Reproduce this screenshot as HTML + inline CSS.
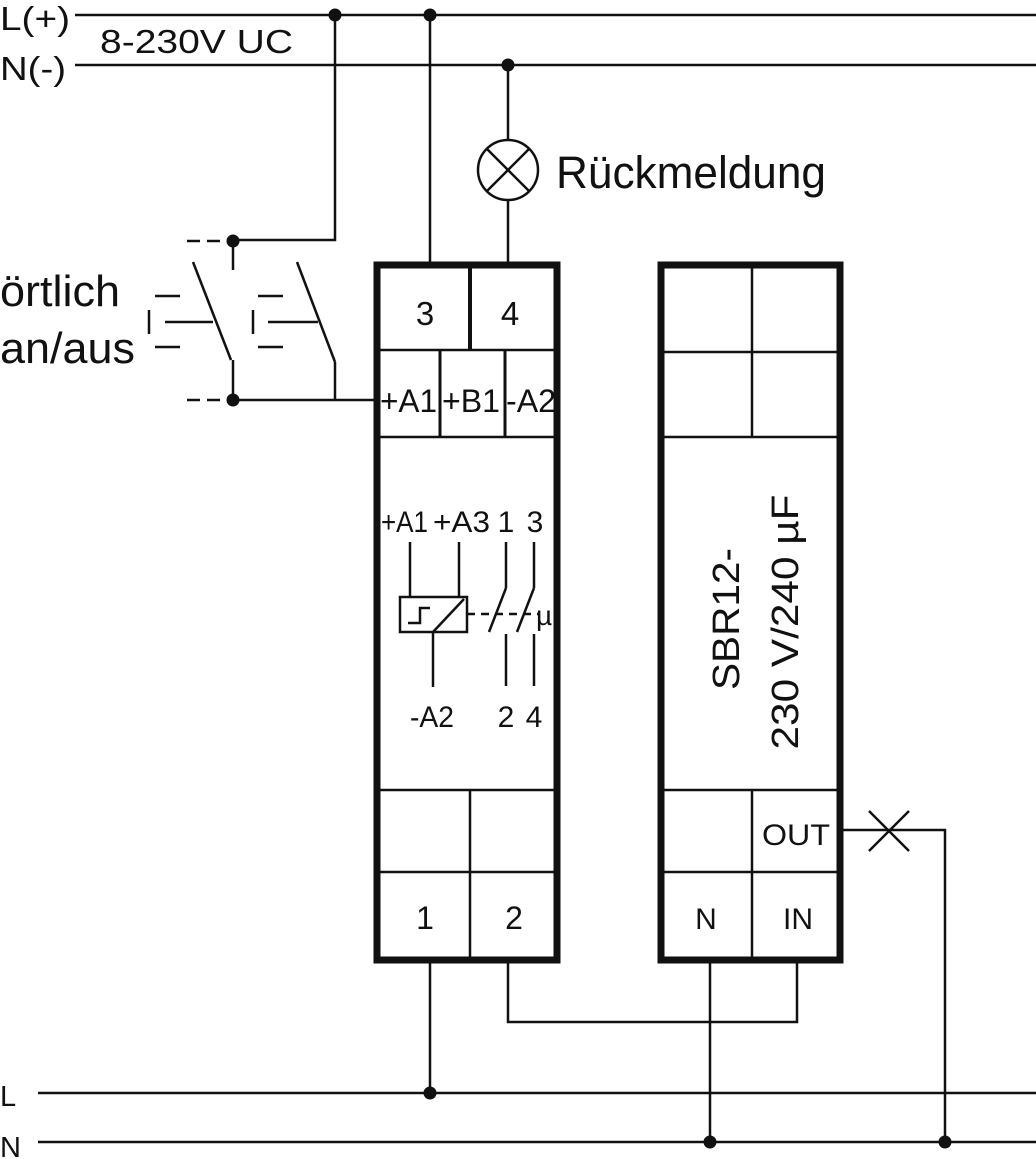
<!DOCTYPE html>
<html><head><meta charset="utf-8"><style>
html,body{margin:0;padding:0;background:#fff;}
svg{display:block;}
text{font-family:"Liberation Sans",sans-serif;fill:#111;}
</style></head><body>
<svg width="1036" height="1159" viewBox="0 0 1036 1159" xmlns="http://www.w3.org/2000/svg">
<g stroke="#111" stroke-width="2.5" fill="none">
<line x1="75" y1="15" x2="1036" y2="15"/>
<line x1="75" y1="65" x2="1036" y2="65"/>
<line x1="38" y1="1093" x2="1036" y2="1093"/>
<line x1="38" y1="1142" x2="1036" y2="1142"/>
<polyline points="335,15 335,240 233,240"/>
<line x1="430" y1="15" x2="430" y2="265"/>
<line x1="508" y1="65" x2="508" y2="140"/>
<line x1="508" y1="200" x2="508" y2="265"/>
<circle cx="508" cy="170" r="30"/>
<line x1="487" y1="149" x2="529" y2="191"/>
<line x1="529" y1="149" x2="487" y2="191"/>
<line x1="187" y1="241" x2="200" y2="241"/><line x1="207" y1="241" x2="220" y2="241"/>
<line x1="187" y1="400" x2="200" y2="400"/><line x1="207" y1="400" x2="220" y2="400"/>
<line x1="233" y1="240" x2="233" y2="270"/>
<line x1="193" y1="262" x2="231" y2="360"/>
<line x1="233" y1="360" x2="233" y2="400"/>
<line x1="297" y1="262" x2="335" y2="362"/>
<line x1="335" y1="362" x2="335" y2="400"/>
<line x1="233" y1="400" x2="378" y2="400"/>
<line x1="155" y1="296" x2="180" y2="296"/><line x1="165" y1="322" x2="213" y2="322"/><line x1="155" y1="347" x2="180" y2="347"/>
<line x1="149" y1="310" x2="149" y2="334"/>
<line x1="258" y1="296" x2="283" y2="296"/><line x1="268" y1="322" x2="318" y2="322"/><line x1="258" y1="347" x2="283" y2="347"/>
<line x1="253" y1="310" x2="253" y2="334"/>
<rect x="377" y="265" width="180" height="695" stroke-width="7"/>
<line x1="377" y1="350" x2="557" y2="350"/>
<line x1="377" y1="437" x2="557" y2="437"/>
<line x1="470" y1="265" x2="470" y2="350" stroke-width="4"/>
<line x1="440" y1="350" x2="440" y2="437" stroke-width="3"/>
<line x1="505" y1="350" x2="505" y2="437" stroke-width="3"/>
<line x1="377" y1="790" x2="557" y2="790"/>
<line x1="377" y1="872" x2="557" y2="872"/>
<line x1="470" y1="790" x2="470" y2="960"/>
<rect x="400" y="597" width="67" height="35"/>
<line x1="410" y1="542" x2="410" y2="597"/>
<line x1="459" y1="542" x2="459" y2="597"/>
<line x1="433" y1="632" x2="464" y2="599"/>
<line x1="433" y1="632" x2="433" y2="687"/>
<polyline points="408,623 420,623 420,608 430,608"/>
<line x1="467" y1="614" x2="540" y2="614" stroke-dasharray="8,6"/>
<line x1="506" y1="542" x2="506" y2="588"/>
<line x1="506" y1="588" x2="489" y2="632"/>
<line x1="506" y1="634" x2="506" y2="686"/>
<line x1="534" y1="542" x2="534" y2="588"/>
<line x1="534" y1="588" x2="517" y2="632"/>
<line x1="534" y1="634" x2="534" y2="686"/>
<rect x="661" y="265" width="179" height="695" stroke-width="7"/>
<line x1="661" y1="352" x2="840" y2="352"/>
<line x1="661" y1="437" x2="840" y2="437"/>
<line x1="752" y1="265" x2="752" y2="437"/>
<line x1="661" y1="790" x2="840" y2="790"/>
<line x1="661" y1="872" x2="840" y2="872"/>
<line x1="752" y1="790" x2="752" y2="960"/>
<line x1="430" y1="960" x2="430" y2="1093"/>
<polyline points="508,960 508,1022 797,1022 797,960"/>
<line x1="710" y1="960" x2="710" y2="1142"/>
<polyline points="840,830 945,830 945,1142"/>
<line x1="869" y1="811" x2="909" y2="851"/>
<line x1="909" y1="811" x2="869" y2="851"/>
</g>
<g fill="#111">
<circle cx="335" cy="15" r="6.5"/><circle cx="430" cy="15" r="6.5"/><circle cx="508" cy="65" r="6.5"/>
<circle cx="233" cy="241" r="6.5"/><circle cx="233" cy="400" r="6.5"/>
<circle cx="430" cy="1093" r="6.5"/><circle cx="710" cy="1142" r="6.5"/><circle cx="945" cy="1142" r="6.5"/>
</g>
<text x="0" y="30" font-size="33" textLength="70" lengthAdjust="spacingAndGlyphs">L(+)</text>
<text x="0" y="80" font-size="33" textLength="66" lengthAdjust="spacingAndGlyphs">N(-)</text>
<text x="100" y="53" font-size="33" textLength="193" lengthAdjust="spacingAndGlyphs">8-230V UC</text>
<text x="556" y="188" font-size="45" textLength="270" lengthAdjust="spacingAndGlyphs">Rückmeldung</text>
<text x="0" y="306" font-size="44" textLength="120" lengthAdjust="spacingAndGlyphs">örtlich</text>
<text x="0" y="363" font-size="44" textLength="135" lengthAdjust="spacingAndGlyphs">an/aus</text>
<text x="425" y="325" font-size="33" text-anchor="middle">3</text>
<text x="510" y="325" font-size="33" text-anchor="middle">4</text>
<text x="380" y="412" font-size="32" textLength="57" lengthAdjust="spacingAndGlyphs">+A1</text>
<text x="442" y="412" font-size="32" textLength="58" lengthAdjust="spacingAndGlyphs">+B1</text>
<text x="506" y="412" font-size="32" textLength="50" lengthAdjust="spacingAndGlyphs">-A2</text>
<text x="381" y="532" font-size="30" textLength="47" lengthAdjust="spacingAndGlyphs">+A1</text>
<text x="433" y="532" font-size="30" textLength="57" lengthAdjust="spacingAndGlyphs">+A3</text>
<text x="506" y="532" font-size="30" text-anchor="middle">1</text>
<text x="535" y="532" font-size="30" text-anchor="middle">3</text>
<text x="536" y="625" font-size="28">µ</text>
<text x="432" y="727" font-size="30" text-anchor="middle" textLength="44" lengthAdjust="spacingAndGlyphs">-A2</text>
<text x="506" y="727" font-size="30" text-anchor="middle">2</text>
<text x="534" y="727" font-size="30" text-anchor="middle">4</text>
<text x="425" y="929" font-size="32" text-anchor="middle">1</text>
<text x="514" y="929" font-size="32" text-anchor="middle">2</text>
<text x="762" y="845" font-size="30" textLength="68" lengthAdjust="spacingAndGlyphs">OUT</text>
<text x="706" y="929" font-size="30" text-anchor="middle">N</text>
<text x="798" y="929" font-size="30" text-anchor="middle">IN</text>
<text transform="translate(739,619) rotate(-90)" font-size="38" text-anchor="middle" textLength="142" lengthAdjust="spacingAndGlyphs">SBR12-</text>
<text transform="translate(798,622) rotate(-90)" font-size="38" text-anchor="middle" textLength="255" lengthAdjust="spacingAndGlyphs">230 V/240 µF</text>
<text x="0" y="1106" font-size="29">L</text>
<text x="0" y="1157" font-size="29">N</text>
</svg>
</body></html>
